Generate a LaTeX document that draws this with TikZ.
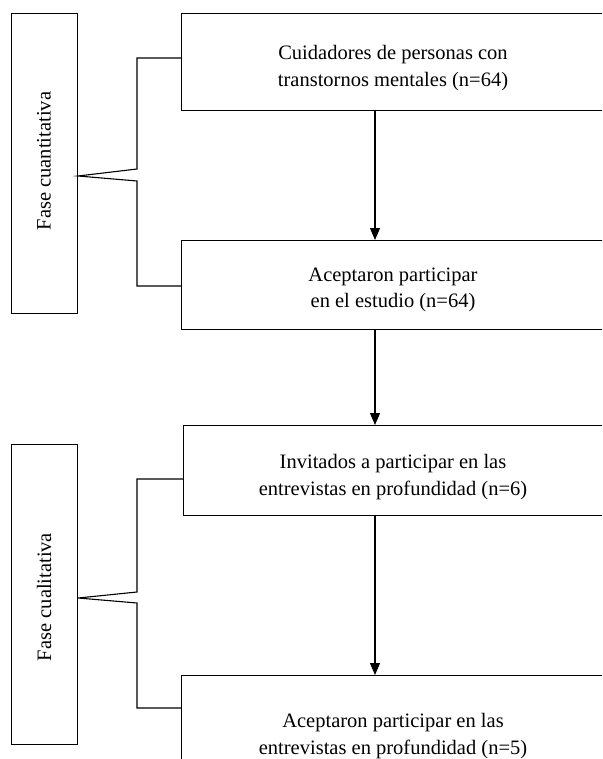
\documentclass[tikz,border=0pt]{standalone}
\usepackage{fontspec}
\setmainfont{Liberation Serif}
\usetikzlibrary{arrows.meta}
\begin{document}
\begin{tikzpicture}[x=1pt,y=-1pt, line width=1.1pt,
  mainbox/.style={draw, anchor=north west, minimum width=425pt, inner sep=0pt},
  phasebox/.style={draw, anchor=north west, minimum width=66pt, inner sep=0pt},
  txt/.style={font=\fontsize{20.5}{26.5}\selectfont, align=center},
  arr/.style={-{Triangle[length=12pt,width=10pt]}},
  brk/.style={line join=miter}]
\useasboundingbox (0,0) rectangle (602,759);
\clip (0,0) rectangle (602,759);
% main boxes
\node[mainbox, minimum height=97pt] (b1) at (181,13) {};
\node[mainbox, minimum height=89pt] (b2) at (181,240) {};
\node[mainbox, minimum height=90pt] (b3) at (183,425) {};
\node[mainbox, minimum height=110pt] (b4) at (181,675) {};
\node[txt] (b1t) at (393,68) {Cuidadores de personas con\\transtornos mentales (n=64)};
\node[txt] (b2t) at (393,290) {Aceptaron participar\\en el estudio (n=64)};
\node[txt] (b3t) at (393,477) {Invitados a participar en las\\entrevistas en profundidad (n=6)};
\node[txt] (b4t) at (393,736) {Aceptaron participar en las\\entrevistas en profundidad (n=5)};
% phase boxes
\node[phasebox, minimum height=300pt] (f1) at (11,13) {};
\node[txt, rotate=90] (f1t) at (44,161) {Fase cuantitativa};
\node[phasebox, minimum height=300pt] (f2) at (11,444) {};
\node[txt, rotate=90] (f2t) at (44,597) {Fase cualitativa};
% arrows
\coordinate (ax) at (375,0);
\draw[arr] (b1.south -| ax) -- (b2.north -| ax);
\draw[arr] (b2.south -| ax) -- (b3.north -| ax);
\draw[arr] (b3.south -| ax) -- (b4.north -| ax);
% brackets
\coordinate (t1) at (f1.east |- 0,176);
\coordinate (t2) at (f2.east |- 0,598);
\draw[brk] (b1.west |- 0,58) -- (137,58) -- (137,169) -- (t1) -- (137,181) -- (137,286) -- (b2.west |- 0,286);
\draw[brk] (b3.west |- 0,479) -- (137,479) -- (137,592) -- (t2) -- (137,603) -- (137,708) -- (b4.west |- 0,708);
\end{tikzpicture}
\end{document}
